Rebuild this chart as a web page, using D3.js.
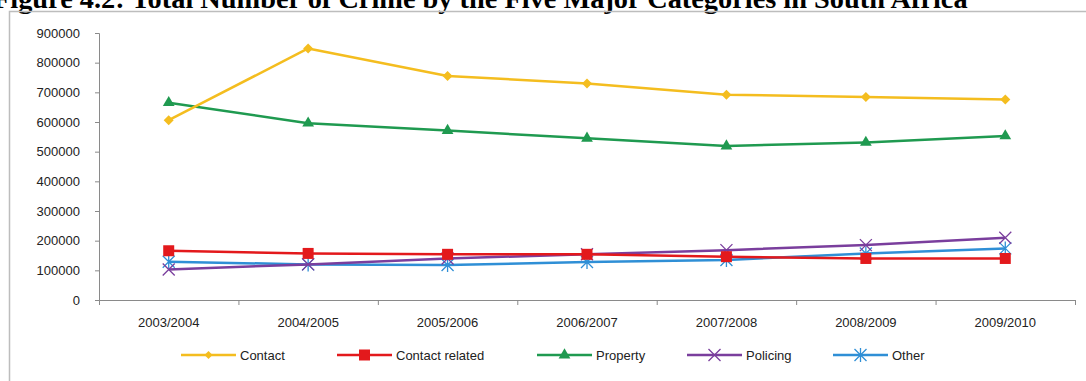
<!DOCTYPE html>
<html><head><meta charset="utf-8">
<script src="https://cdn.jsdelivr.net/npm/d3@7"></script>
<style>html,body{margin:0;padding:0;background:#fff;overflow:hidden}svg{display:block}</style>
</head><body>
<svg id="c" width="1086" height="381"></svg>
<script>
const categories = ["2003/2004","2004/2005","2005/2006","2006/2007","2007/2008","2008/2009","2009/2010"];
const contact        = [606000, 848000, 755000, 730000, 692000, 684000, 676000];
const contactRelated = [166000, 157000, 154000, 154000, 146000, 140000, 140000];
const property       = [665000, 596000, 571000, 545000, 519000, 531000, 553000];
const policing       = [103000, 120000, 140000, 154000, 168000, 185000, 210000];
const other          = [129000, 120000, 118000, 128000, 135000, 157000, 174000];
const yTicks = [0,100000,200000,300000,400000,500000,600000,700000,800000,900000];
const seriesNames = ["Contact","Contact related","Property","Policing","Other"];
const titleText = "Figure 4.2: Total Number of Crime by the Five Major Categories in South Africa";

const seriesValues = [contact, contactRelated, property, policing, other];
const colors = ["#f4bd1f","#e3191c","#1f9a50","#7a3e9d","#2f8fd6"];
const markers = ["diamond","square","triangle","x","asterisk"];

const svg = d3.select("#c");
const font = "Liberation Sans, Arial, sans-serif";

// title (partially cut at top, as in the reference)
const title = svg.append("text").attr("x",-7).attr("y",8)
  .attr("font-family","Liberation Serif, Times New Roman, serif")
  .attr("font-weight","bold").attr("font-size",20).attr("fill","#000").text(titleText);
const tw = title.node().getComputedTextLength();
title.attr("font-size", 20*975/tw);

// frame
svg.append("path").attr("d","M9.5,381 V11.5 H1086").attr("fill","none").attr("stroke","#bdbdbd").attr("stroke-width",1.5);

const x = d3.scaleBand().domain(categories).range([99,1075]).padding(0);
const y = d3.scaleLinear().domain([0,900000]).range([300,33]);

// y axis
const ya = svg.append("g").attr("transform","translate(99,0)")
  .call(d3.axisLeft(y).tickValues(yTicks).tickSize(4).tickPadding(15).tickFormat(d3.format("d")));
ya.selectAll("path,line").attr("stroke","#8a8a8a");
ya.select(".domain").attr("d","M-4,33.5H0.5V300.5H-4");
ya.selectAll("text").attr("font-family",font).attr("font-size",13).attr("fill","#222");

// x axis
const xa = svg.append("g").attr("transform","translate(0,300)")
  .call(d3.axisBottom(x).tickSize(0).tickPadding(18));
xa.select(".domain").attr("stroke","#8a8a8a").attr("d",`M${x.range()[0]},0.5H${x.range()[1]}`);
xa.selectAll("text").attr("font-family",font).attr("font-size",13).attr("fill","#222");
const bounds = categories.map(c=>x(c)).concat([x.range()[1]]);
xa.selectAll("line.bt").data(bounds).enter().append("line").attr("class","bt")
  .attr("x1",d=>d+0.5).attr("x2",d=>d+0.5).attr("y1",0).attr("y2",5).attr("stroke","#8a8a8a");

function drawMarker(g, type, cx, cy, color, s){
  s = s || 1;
  const t = `translate(${cx},${cy}) scale(${s})`;
  if(type==="diamond"){
    g.append("path").attr("d","M0,-5L5,0L0,5L-5,0Z").attr("transform",t).attr("fill",color);
  } else if(type==="square"){
    g.append("path").attr("d","M-5.5,-5.5H5.5V5.5H-5.5Z").attr("transform",t).attr("fill",color);
  } else if(type==="triangle"){
    g.append("path").attr("d",d3.symbol(d3.symbolTriangle,60)()).attr("transform",t).attr("fill",color);
  } else if(type==="x"){
    g.append("path").attr("d","M-6,-6L6,6M-6,6L6,-6").attr("transform",t).attr("stroke",color).attr("stroke-width",1.3).attr("fill","none");
  } else if(type==="asterisk"){
    g.append("path").attr("d","M-6,-6L6,6M-6,6L6,-6M0,-7V7").attr("transform",t).attr("stroke",color).attr("stroke-width",1.3).attr("fill","none");
  }
}

const line = d3.line().x((d,i)=>x(categories[i])+x.bandwidth()/2).y(d=>y(d));
const order = [4,3,1,2,0];
order.forEach(si=>{
  const g = svg.append("g");
  g.append("path").datum(seriesValues[si]).attr("d",line).attr("fill","none")
    .attr("stroke",colors[si]).attr("stroke-width",2.5).attr("stroke-linejoin","round");
  seriesValues[si].forEach((v,i)=>drawMarker(g, markers[si], x(categories[i])+x.bandwidth()/2, y(v), colors[si]));
});

// legend
const legX = [181, 337, 537, 687, 833];
const legY = 355;
seriesNames.forEach((n,i)=>{
  const g = svg.append("g");
  g.append("line").attr("x1",legX[i]).attr("x2",legX[i]+55).attr("y1",legY).attr("y2",legY)
    .attr("stroke",colors[i]).attr("stroke-width",2.5);
  drawMarker(g, markers[i], legX[i]+27.5, legY, colors[i], i===0?0.8:1);
  g.append("text").attr("x",legX[i]+59).attr("y",legY).attr("dy","0.35em")
    .attr("font-family",font).attr("font-size",13).attr("fill","#222").text(n);
});
</script>
</body></html>
